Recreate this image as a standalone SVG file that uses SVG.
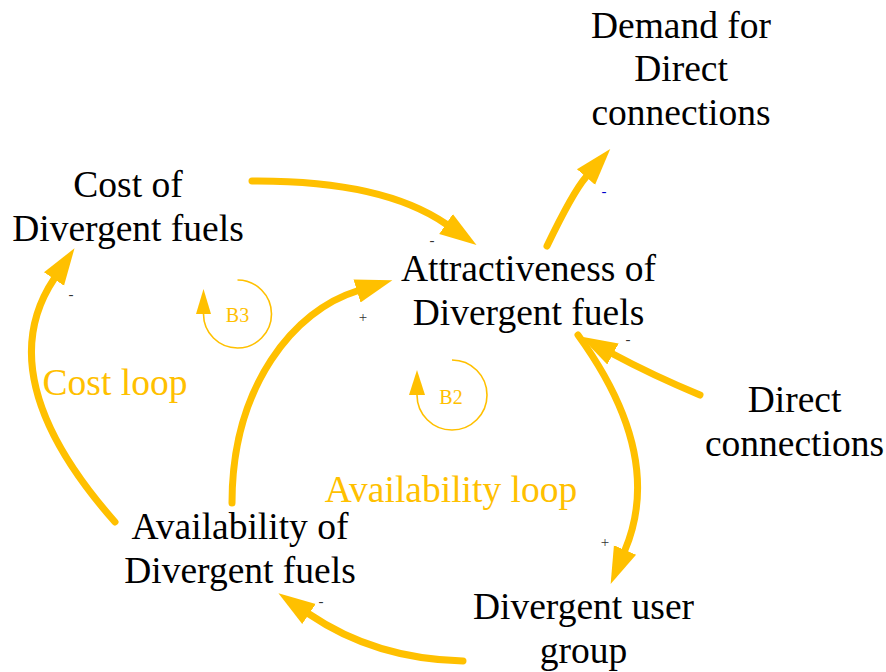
<svg xmlns="http://www.w3.org/2000/svg" width="886" height="672" viewBox="0 0 886 672">
<defs>
<style>
.node{font-family:"Liberation Serif","Times New Roman",serif;font-size:37.5px;fill:#000;text-anchor:middle}
.loop{font-family:"Liberation Serif","Times New Roman",serif;font-size:37.5px;fill:#FFC000;text-anchor:middle}
.link{fill:none;stroke:#FFC000;stroke-width:7;stroke-linecap:round}
.pol{font-family:"Liberation Serif","Times New Roman",serif;font-size:15px;fill:#333;text-anchor:middle}
.pol-blue{fill:#0000cc}
.icon{fill:none;stroke:#FFC000;stroke-width:1.6}
.iconhead{fill:#FFC000}
.iconlbl{font-family:"Liberation Serif","Times New Roman",serif;font-size:20px;fill:#FFC000;text-anchor:middle}
</style>
<marker id="ah" markerUnits="userSpaceOnUse" markerWidth="40" markerHeight="28" refX="0" refY="12" orient="auto" viewBox="0 0 40 24">
<path d="M0,0 L37,12 L0,24 z" fill="#FFC000"/>
</marker>
</defs>
<rect width="886" height="672" fill="#fff"/>
<g id="connectors">
<path class="link" marker-end="url(#ah)" d="M252,181 Q382,180 446,224"/>
<path class="link" marker-end="url(#ah)" d="M547,246 Q573,192 586,177"/>
<path class="link" marker-end="url(#ah)" d="M700,395 Q652,375 613,354"/>
<path class="link" marker-end="url(#ah)" d="M578,335 Q665,455 625,550"/>
<path class="link" marker-end="url(#ah)" d="M463,661 Q375,659 309,614"/>
<path class="link" marker-end="url(#ah)" d="M115,522 Q-12,378 54,279"/>
<path class="link" marker-end="url(#ah)" d="M232,503 C232,385 295,310 357,291"/>
<text class="pol" x="432" y="245">-</text>
<text class="pol pol-blue" x="604" y="196">-</text>
<text class="pol" x="628" y="344">-</text>
<text class="pol" x="605" y="547">+</text>
<text class="pol" x="321" y="606">-</text>
<text class="pol" x="71" y="299">-</text>
<text class="pol" x="363" y="322">+</text>
</g>
<g id="demand">
<text class="node" x="681" y="37.5">Demand for</text>
<text class="node" x="681" y="81">Direct</text>
<text class="node" x="681" y="124.5">connections</text>
</g>
<g id="cost">
<text class="node" x="128" y="197">Cost of</text>
<text class="node" x="128" y="241">Divergent fuels</text>
</g>
<g id="attractiveness">
<text class="node" x="528.5" y="281">Attractiveness of</text>
<text class="node" x="528.5" y="324.5">Divergent fuels</text>
</g>
<g id="direct">
<text class="node" x="794.5" y="412">Direct</text>
<text class="node" x="794.5" y="455.5">connections</text>
</g>
<g id="availability">
<text class="node" x="240" y="539">Availability of</text>
<text class="node" x="240" y="582.5">Divergent fuels</text>
</g>
<g id="usergroup">
<text class="node" x="583.5" y="619">Divergent user</text>
<text class="node" x="583.5" y="662.5">group</text>
</g>
<g id="costloop">
<text class="loop" x="115" y="395">Cost loop</text>
</g>
<g id="availabilityloop">
<text class="loop" x="451" y="502">Availability loop</text>
</g>
<g id="B3">
<path class="icon" d="M237.5,280 A34,34 0 1 1 203.5,314"/>
<polygon class="iconhead" points="203.5,289 196,314 211,314"/>
<text class="iconlbl" x="237.5" y="322">B3</text>
</g>
<g id="B2">
<path class="icon" d="M452,360 A35,35 0 1 1 417,395"/>
<polygon class="iconhead" points="417,370 409,395 425,395"/>
<text class="iconlbl" x="451" y="404">B2</text>
</g>
</svg>
